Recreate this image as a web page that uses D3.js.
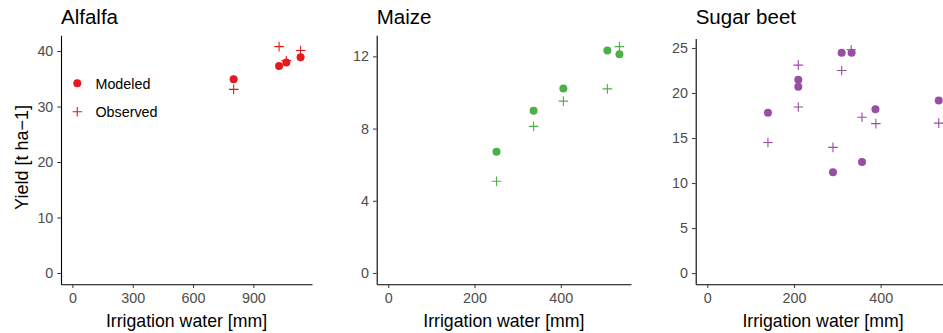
<!DOCTYPE html>
<html>
<head>
<meta charset="utf-8">
<script src="https://cdn.jsdelivr.net/npm/d3@7"></script>
<style>
html,body{margin:0;padding:0;background:#fff;overflow:hidden;}
svg{display:block;font-family:"Liberation Sans",Arial,sans-serif;}
</style>
</head>
<body>
<svg id="chart" width="943" height="333"></svg>
<script>
// ---- data ----
const crops = ["Alfalfa", "Maize", "Sugar beet"];
const colors = ["#E41A1C", "#4DAF4A", "#984EA3"];

const alfalfaWater    = [802, 1028, 1064, 1135];
const alfalfaModeled  = [34.9, 37.3, 37.95, 38.9];
const alfalfaObserved = [33.1, 40.8, 38.3, 40.1];

const maizeWater    = [251, 337, 406, 508, 536];
const maizeModeled  = [6.72, 8.99, 10.22, 12.32, 12.12];
const maizeObserved = [5.08, 8.12, 9.52, 10.2, 12.54];

const beetWater    = [140, 210, 210, 310, 333, 290, 357, 388, 534];
const beetModeled  = [17.8, 21.46, 20.7, 24.47, 24.47, 11.2, 12.35, 18.2, 19.18];
const beetWaterObs = [140, 210, 210, 310, 332, 290, 357, 389, 534];
const beetObserved = [14.5, 23.1, 18.45, 22.5, 24.8, 13.96, 17.3, 16.6, 16.65];

const xTicks = [[0, 300, 600, 900], [0, 200, 400], [0, 200, 400]];
const yTicks = [[0, 10, 20, 30, 40], [0, 4, 8, 12], [0, 5, 10, 15, 20, 25]];
const legendLabels = ["Modeled", "Observed"];

const panelData = [
  {water: alfalfaWater, modeled: alfalfaModeled, waterObs: alfalfaWater, observed: alfalfaObserved},
  {water: maizeWater, modeled: maizeModeled, waterObs: maizeWater, observed: maizeObserved},
  {water: beetWater, modeled: beetModeled, waterObs: beetWaterObs, observed: beetObserved}
];

// ---- layout ----
const boxes = [
  {left: 61, right: 312, top: 35.3, bottom: 284.3},
  {left: 376.7, right: 631, top: 35.3, bottom: 284.3},
  {left: 695.7, right: 950.3, top: 38.6, bottom: 284.3}
];

const svg = d3.select("#chart");
const tickGrey = "#4D4D4D";

function expand(maxV) { return [-0.05 * maxV, 1.05 * maxV]; }

panelData.forEach((pd, i) => {
  const b = boxes[i];
  const xMax = d3.max(pd.water.concat(pd.waterObs));
  const yMax = d3.max(pd.modeled.concat(pd.observed));
  const x = d3.scaleLinear().domain(expand(xMax)).range([b.left, b.right]);
  const y = d3.scaleLinear().domain(expand(yMax)).range([b.bottom, b.top]);
  const g = svg.append("g");

  // axes
  const xa = g.append("g").attr("transform", `translate(0,${b.bottom})`)
    .call(d3.axisBottom(x).tickValues(xTicks[i]).tickSize(3.7).tickPadding(5.3).tickSizeOuter(0));
  const ya = g.append("g").attr("transform", `translate(${b.left},0)`)
    .call(d3.axisLeft(y).tickValues(yTicks[i]).tickSize(3.7).tickPadding(4).tickSizeOuter(0));
  [xa, ya].forEach(a => {
    a.select(".domain").attr("stroke", "#000").attr("stroke-width", 1.1);
    a.selectAll(".tick line").attr("stroke", "#333").attr("stroke-width", 1);
    a.selectAll(".tick text").attr("fill", tickGrey).attr("font-size", 14.3)
      .attr("font-family", "Liberation Sans, Arial, sans-serif");
  });

  // title
  g.append("text").attr("x", b.left).attr("y", 24.4).attr("font-size", 20.5)
    .attr("fill", "#000").text(crops[i]);

  // x axis title
  g.append("text").attr("x", (b.left + b.right) / 2).attr("y", 326.5)
    .attr("text-anchor", "middle").attr("font-size", 17.7).attr("fill", "#000")
    .text("Irrigation water [mm]");

  // observed (plus)
  const arm = 4.8;
  g.append("g").selectAll("path").data(pd.observed).join("path")
    .attr("d", (d, j) => {
      const cx = x(pd.waterObs[j]), cy = y(d);
      return `M${cx - arm},${cy}H${cx + arm}M${cx},${cy - arm}V${cy + arm}`;
    })
    .attr("stroke", colors[i]).attr("stroke-width", 1.1).attr("fill", "none");

  // modeled (circles)
  g.append("g").selectAll("circle").data(pd.modeled).join("circle")
    .attr("cx", (d, j) => x(pd.water[j])).attr("cy", d => y(d))
    .attr("r", 4).attr("fill", colors[i]);
});

// y axis title
svg.append("text")
  .attr("transform", `translate(28,157.5) rotate(-90)`)
  .attr("text-anchor", "middle").attr("font-size", 18).attr("fill", "#000")
  .text("Yield [t ha\u22121]");

// legend
const lg = svg.append("g");
lg.append("circle").attr("cx", 77.3).attr("cy", 83.3).attr("r", 4).attr("fill", colors[0]);
lg.append("path").attr("d", `M${77.3 - 4.8},111.7H${77.3 + 4.8}M77.3,${111.7 - 4.8}V${111.7 + 4.8}`)
  .attr("stroke", colors[0]).attr("stroke-width", 1.1);
lg.append("text").attr("x", 95.5).attr("y", 88.5).attr("font-size", 14.3).attr("fill", "#000").text(legendLabels[0]);
lg.append("text").attr("x", 95.5).attr("y", 116.8).attr("font-size", 14.3).attr("fill", "#000").text(legendLabels[1]);
</script>
</body>
</html>
